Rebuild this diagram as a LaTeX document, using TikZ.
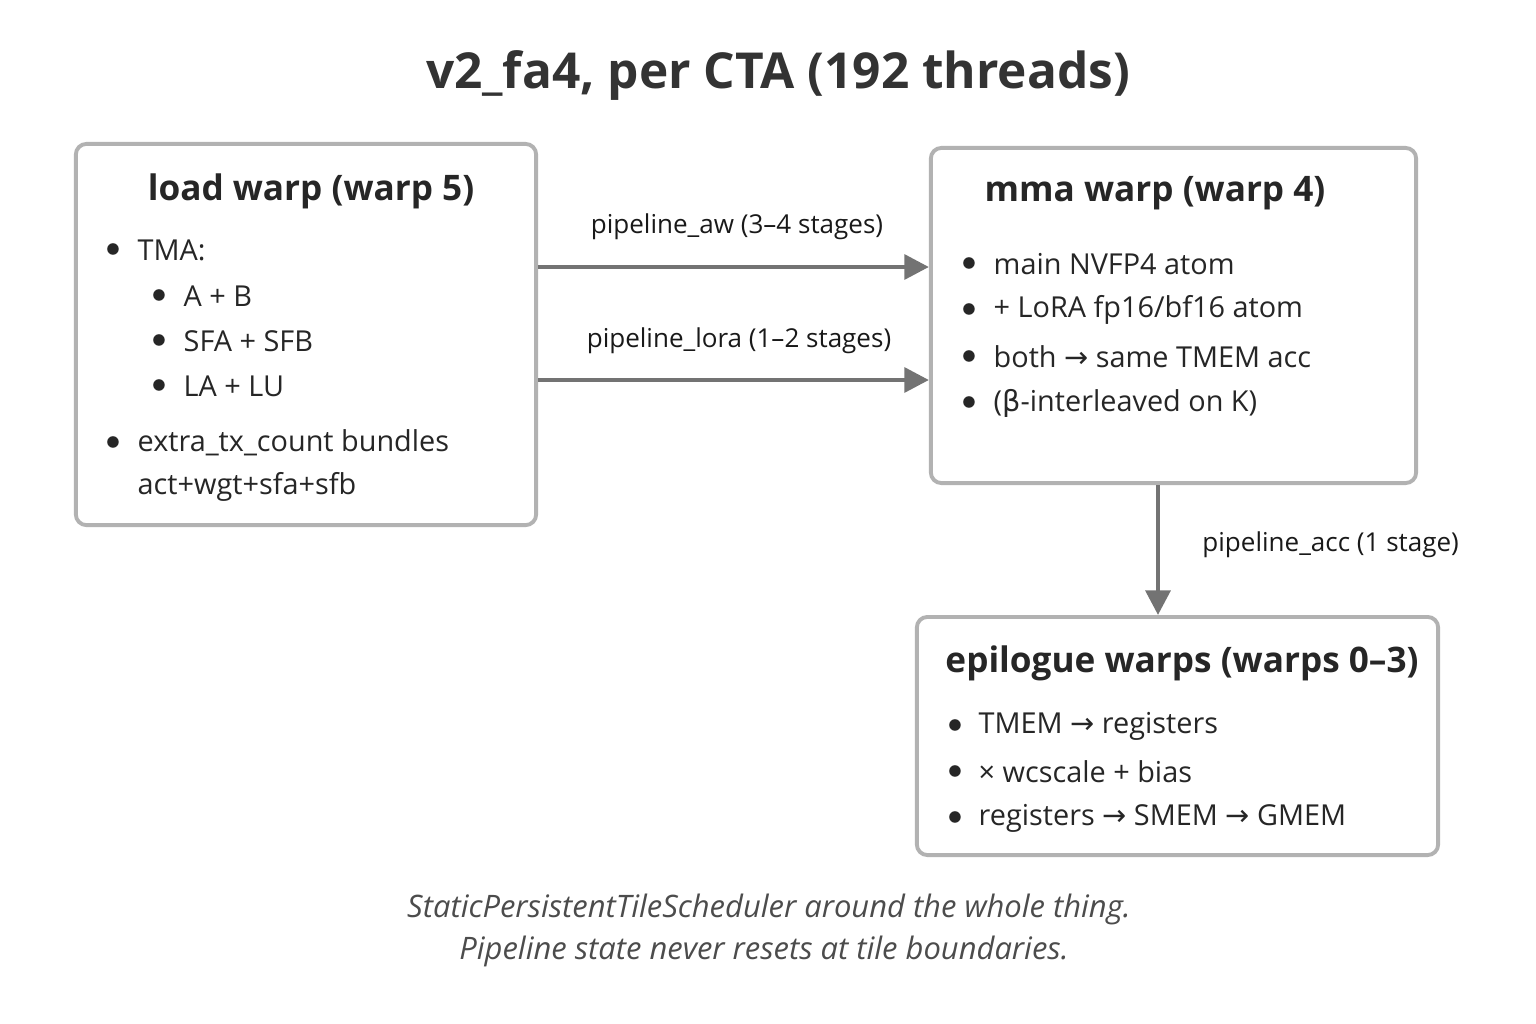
\documentclass[tikz,border=0pt]{standalone}
\usepackage{fontspec}
\setmainfont{Open Sans}
\newfontfamily\symf{DejaVu Sans}
\usetikzlibrary{arrows.meta}
\newcommand{\ar}{{\symf→}}
\begin{document}
\begin{tikzpicture}[x=0.01cm,y=-0.01cm,
  box/.style={draw=black!30,line width=1.1pt,rounded corners=3pt,fill=white},
  head/.style={font=\fontsize{10}{12}\selectfont\bfseries,text=black!85},
  item/.style={anchor=west,font=\fontsize{8.2}{10}\selectfont,text=black!85,inner sep=0pt},
  dot/.style={font=\fontsize{8.2}{10}\selectfont,text=black!85,inner sep=0pt},
  lbl/.style={font=\fontsize{7.4}{9}\selectfont,text=black!90},
  flow/.style={-{Triangle[length=7pt,width=7pt]},draw=black!55,line width=1.3pt}]
  \useasboundingbox (0,0) rectangle (1536,1024);
  \node[font=\fontsize{14.1}{17}\selectfont\bfseries,text=black!80] (title) at (778,75) {v2\_fa4, per CTA (192 threads)};
  % boxes
  \node[box,minimum width=4.6cm,minimum height=3.81cm] (load) at (306,334.5) {};
  \node[box,minimum width=4.85cm,minimum height=3.35cm] (mma) at (1173.5,315.5) {};
  \node[box,minimum width=5.21cm,minimum height=2.38cm] (epi) at (1177.5,736) {};
  % load warp
  \node[head] (loadh) at (311,191) {load warp (warp 5)};
  \foreach \y/\t in {250/TMA:,443/extra\_tx\_count bundles}
    {\node[dot] at (113,\y) {$\bullet$}; \node[item] at (137,\y) {\t};}
  \foreach \y/\t in {296/A + B,341/SFA + SFB,386/LA + LU}
    {\node[dot] at (159,\y) {$\bullet$}; \node[item] at (183,\y) {\t};}
  \node[item] at (137,487) {act+wgt+sfa+sfb};
  % mma warp
  \node[head] (mmah) at (1155,193) {mma warp (warp 4)};
  \foreach \y/\t in {264/main NVFP4 atom,310/{+ LoRA fp16/bf16 atom},357/both \ar{} same TMEM acc,403/({\symf β}-interleaved on K)}
    {\node[dot] at (969,\y) {$\bullet$}; \node[item] at (993,\y) {\t};}
  % epilogue
  \node[head] (epih) at (1182,663) {epilogue warps (warps 0–3)};
  \foreach \y/\t in {726/TMEM \ar{} registers,772/× wcscale + bias,818/registers \ar{} SMEM \ar{} GMEM}
    {\node[dot] at (955,\y) {$\bullet$}; \node[item] at (978,\y) {\t};}
  % pipelines
  \coordinate (aw) at (700,267);
  \coordinate (lora) at (700,380);
  \coordinate (acc) at (1158,550);
  \draw[flow] (load.east|-aw) -- (mma.west|-aw);
  \draw[flow] (load.east|-lora) -- (mma.west|-lora);
  \draw[flow] (mma.south-|acc) -- (epi.north-|acc);
  \node[lbl] at (737,227) {pipeline\_aw (3–4 stages)};
  \node[lbl] at (739,341) {pipeline\_lora (1–2 stages)};
  \node[lbl,anchor=west] at (1190,545) {pipeline\_acc (1 stage)};
  % footer
  \node[font=\fontsize{8.8}{10}\selectfont\itshape,text=black!70] (note1) at (769,909) {StaticPersistentTileScheduler around the whole thing.};
  \node[font=\fontsize{8.8}{10}\selectfont\itshape,text=black!70] (note2) at (764,951) {Pipeline state never resets at tile boundaries.};
\end{tikzpicture}
\end{document}
